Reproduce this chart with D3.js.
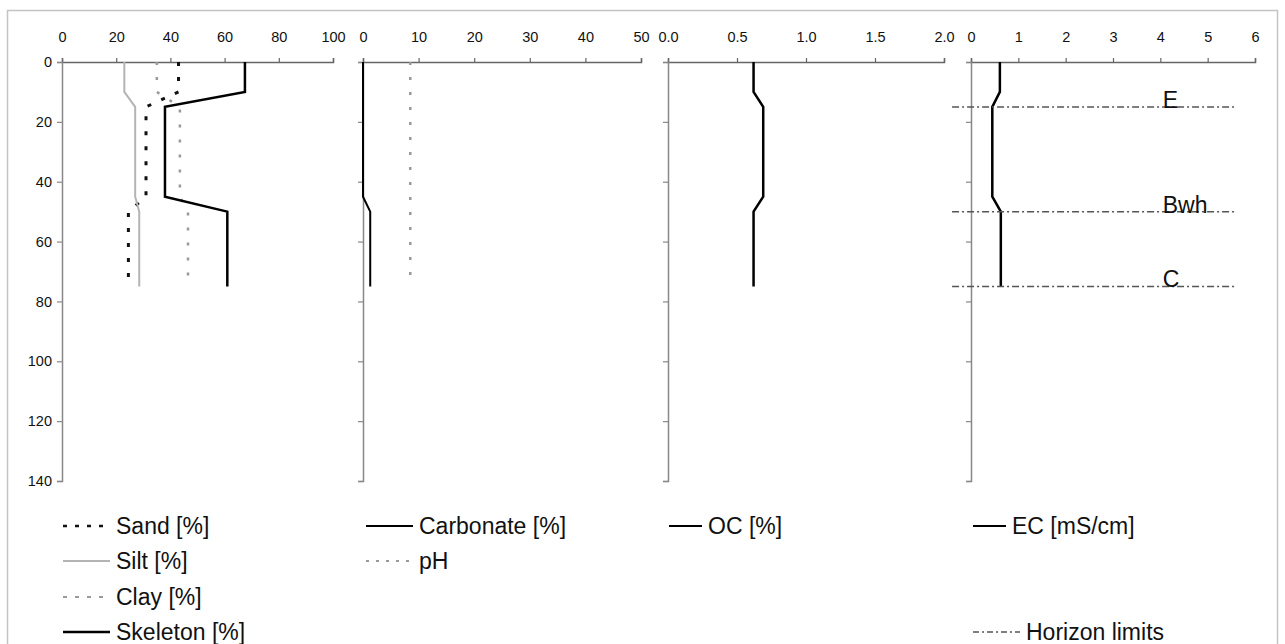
<!DOCTYPE html>
<html>
<head>
<meta charset="utf-8">
<script src="https://cdn.jsdelivr.net/npm/d3@7"></script>
<style>
  body { margin: 0; background: #fff; }
  svg { display: block; font-family: "Liberation Sans", Arial, sans-serif; }
  .tick text { fill: #111; }
</style>
</head>
<body>
<div id="chart"></div>
<script>
// depth of each measured point [cm]
const depth = [0, 10, 15, 45, 50, 75];

// panel 1: texture
const sand = [43, 43, 31, 31, 24.5, 24.5];
const silt = [23, 23, 27, 27, 28.5, 28.5];
const clay = [35, 35, 43.5, 43.5, 46.5, 46.5];
const skeleton = [67.5, 67.5, 38, 38, 61, 61];

// panel 2: carbonate and pH
const carbonate = [0, 0, 0, 0, 1.3, 1.3];
const pH = [8.5, 8.5, 8.5, 8.5, 8.5, 8.5];

// panel 3: organic carbon
const oc = [0.62, 0.62, 0.69, 0.69, 0.62, 0.62];

// panel 4: electrical conductivity
const ec = [0.61, 0.61, 0.45, 0.45, 0.63, 0.63];

// horizon limits
const horizonDepths = [15, 50, 75];
const horizonNames = ["E", "Bwh", "C"];

const depthTicks = [0, 20, 40, 60, 80, 100, 120, 140];

const width = 1285, height = 644;

const svg = d3.select("#chart").append("svg")
    .attr("width", width)
    .attr("height", height);

// picture frame
svg.append("rect")
    .attr("x", 7.5).attr("y", 10.5)
    .attr("width", 1270).attr("height", 700)
    .attr("fill", "none")
    .attr("stroke", "#c4c4c4")
    .attr("stroke-width", 1.5);

const yScale = d3.scaleLinear().domain([0, 140]).range([62, 481]);

const panels = [
    { domain: [0, 100], range: [62, 333], ticks: [0, 20, 40, 60, 80, 100], fmt: d3.format("d"), labels: true },
    { domain: [0, 50], range: [363, 641], ticks: [0, 10, 20, 30, 40, 50], fmt: d3.format("d"), labels: false },
    { domain: [0, 2], range: [668, 944], ticks: [0, 0.5, 1, 1.5, 2], fmt: d3.format(".1f"), labels: false },
    { domain: [0, 6], range: [971, 1255], ticks: [0, 1, 2, 3, 4, 5, 6], fmt: d3.format("d"), labels: false }
];

panels.forEach(p => {
    p.x = d3.scaleLinear().domain(p.domain).range(p.range);

    // top axis
    const top = svg.append("g")
        .attr("transform", `translate(0,${yScale(0)})`)
        .call(d3.axisTop(p.x).tickValues(p.ticks).tickFormat(p.fmt)
            .tickSizeInner(4).tickSizeOuter(4).tickPadding(16));
    top.select(".domain").attr("stroke", "#666").attr("stroke-width", 1.5);
    top.selectAll(".tick line").attr("stroke", "#666").attr("stroke-width", 1.2);
    top.selectAll(".tick text").attr("font-size", 14.5).attr("font-family", "Liberation Sans, Arial, sans-serif");

    // left depth axis
    const left = svg.append("g")
        .attr("transform", `translate(${p.range[0]},0)`)
        .call(d3.axisLeft(yScale).tickValues(depthTicks)
            .tickFormat(p.labels ? d3.format("d") : "")
            .tickSizeInner(5).tickSizeOuter(5).tickPadding(5));
    left.select(".domain").attr("stroke", "#888").attr("stroke-width", 1.5);
    left.selectAll(".tick line").attr("stroke", "#888").attr("stroke-width", 1.2);
    left.selectAll(".tick text").attr("font-size", 14.5).attr("font-family", "Liberation Sans, Arial, sans-serif");
});

const [p1, p2, p3, p4] = panels;

const series = [
    { values: sand, x: p1.x, color: "#111", width: 3, dash: "4,11" },
    { values: silt, x: p1.x, color: "#b4b4b4", width: 2, dash: null },
    { values: clay, x: p1.x, color: "#999", width: 2.5, dash: "3,12" },
    { values: skeleton, x: p1.x, color: "#000", width: 2.5, dash: null },
    { values: carbonate, x: p2.x, color: "#000", width: 2, dash: null },
    { values: pH, x: p2.x, color: "#999", width: 2.5, dash: "3,12" },
    { values: oc, x: p3.x, color: "#000", width: 2.5, dash: null },
    { values: ec, x: p4.x, color: "#000", width: 2.5, dash: null }
];

series.forEach(s => {
    const line = d3.line()
        .x(d => s.x(d[0]))
        .y(d => yScale(d[1]));
    svg.append("path")
        .datum(s.values.map((v, i) => [v, depth[i]]))
        .attr("d", line)
        .attr("fill", "none")
        .attr("stroke", s.color)
        .attr("stroke-width", s.width)
        .attr("stroke-dasharray", s.dash);
});

// horizon limits in the EC panel
const horizons = svg.append("g");
horizons.selectAll("line")
    .data(horizonDepths)
    .join("line")
        .attr("x1", p4.x(-0.4))
        .attr("x2", p4.x(5.6))
        .attr("y1", d => yScale(d))
        .attr("y2", d => yScale(d))
        .attr("stroke", "#555")
        .attr("stroke-width", 1.5)
        .attr("stroke-dasharray", "7,3,2,3");
horizons.selectAll("text")
    .data(horizonNames)
    .join("text")
        .attr("x", p4.x(4.05))
        .attr("y", (d, i) => yScale(horizonDepths[i]) + 1)
        .attr("font-size", 23)
        .attr("fill", "#111")
        .text(d => d);

// legends
const legendItems = [
    { x: 63, len: 47, row: 0, text: "Sand [%]", color: "#111", width: 2.5, dash: "4,8" },
    { x: 63, len: 47, row: 1, text: "Silt [%]", color: "#b4b4b4", width: 2, dash: null },
    { x: 63, len: 47, row: 2, text: "Clay [%]", color: "#999", width: 2, dash: "4,8" },
    { x: 63, len: 47, row: 3, text: "Skeleton [%]", color: "#000", width: 2.5, dash: null },
    { x: 366, len: 47, row: 0, text: "Carbonate [%]", color: "#000", width: 2, dash: null },
    { x: 366, len: 47, row: 1, text: "pH", color: "#999", width: 2, dash: "3,7" },
    { x: 669, len: 33, row: 0, text: "OC [%]", color: "#000", width: 2, dash: null },
    { x: 973, len: 33, row: 0, text: "EC [mS/cm]", color: "#000", width: 2, dash: null },
    { x: 973, len: 47, row: 3, text: "Horizon limits", color: "#555", width: 1.5, dash: "6,3,2,3" }
];
const rowY = [526, 561, 597, 632];

const legend = svg.append("g");
legendItems.forEach(d => {
    legend.append("line")
        .attr("x1", d.x).attr("x2", d.x + d.len)
        .attr("y1", rowY[d.row]).attr("y2", rowY[d.row])
        .attr("stroke", d.color)
        .attr("stroke-width", d.width)
        .attr("stroke-dasharray", d.dash);
    legend.append("text")
        .attr("x", d.x + d.len + 6)
        .attr("y", rowY[d.row] + 8)
        .attr("font-size", 23)
        .attr("fill", "#111")
        .text(d.text);
});
</script>
</body>
</html>
